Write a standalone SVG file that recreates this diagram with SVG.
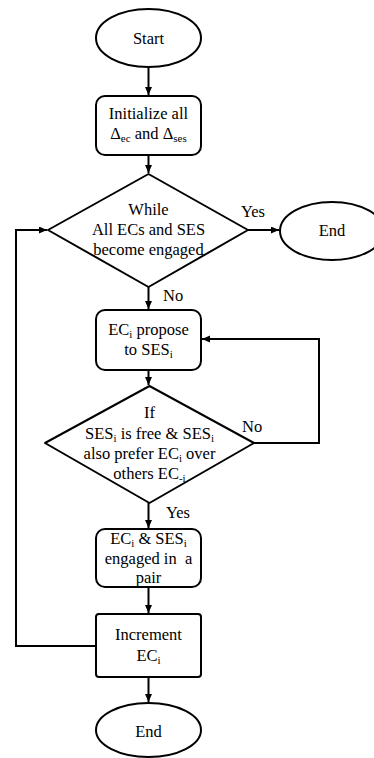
<svg xmlns="http://www.w3.org/2000/svg" width="374" height="758" viewBox="0 0 374 758">
<style>
.s{fill:#fff;stroke:#000;stroke-width:2;stroke-linejoin:round}
.c{fill:none;stroke:#000;stroke-width:2}
text{font-family:'Liberation Serif','DejaVu Serif',serif;font-size:16.5px;fill:#000;text-anchor:middle}
.lb{text-anchor:start}
.sub{font-size:11px}
</style>
<defs>
<marker id="ah" markerUnits="userSpaceOnUse" markerWidth="9" markerHeight="8" refX="8" refY="3.5" orient="auto">
<path d="M0,0 L8,3.5 L0,7 z" fill="#000"/>
</marker>
</defs>
<rect width="374" height="758" fill="#fff"/>
<g id="connectors">
<line class="c" x1="148.5" y1="67" x2="148.5" y2="95" marker-end="url(#ah)"/>
<line class="c" x1="148.5" y1="155" x2="148.5" y2="173" marker-end="url(#ah)"/>
<line class="c" x1="248" y1="230" x2="279" y2="230" marker-end="url(#ah)"/>
<line class="c" x1="148.5" y1="287" x2="148.5" y2="309" marker-end="url(#ah)"/>
<line class="c" x1="148.5" y1="370" x2="148.5" y2="385" marker-end="url(#ah)"/>
<polyline class="c" points="254,443 319,443 319,339 202,339" marker-end="url(#ah)"/>
<line class="c" x1="148.5" y1="503" x2="148.5" y2="528" marker-end="url(#ah)"/>
<line class="c" x1="148.5" y1="587" x2="148.5" y2="613" marker-end="url(#ah)"/>
<line class="c" x1="148.5" y1="677" x2="148.5" y2="702" marker-end="url(#ah)"/>
<polyline class="c" points="96,646 16,646 16,230 47,230" marker-end="url(#ah)"/>
<text class="lb" x="241" y="217">Yes</text>
<text class="lb" x="163" y="301">No</text>
<text class="lb" x="242" y="432">No</text>
<text class="lb" x="166" y="518">Yes</text>
</g>
<g id="start">
<ellipse class="s" cx="148.5" cy="38" rx="52.5" ry="29"/>
<text x="148.5" y="44">Start</text>
</g>
<g id="init">
<rect class="s" x="96" y="96" width="105" height="59" rx="9"/>
<text x="148.5" y="119">Initialize all</text>
<text x="148.5" y="139">Δ<tspan class="sub" dy="3">ec</tspan><tspan dy="-3"> and Δ</tspan><tspan class="sub" dy="3">ses</tspan></text>
</g>
<g id="while">
<polygon class="s" points="148.5,174 248,230 148.5,287 48,230"/>
<text x="148.5" y="215">While</text>
<text x="148.5" y="235">All ECs and SES</text>
<text x="148.5" y="255">become engaged</text>
</g>
<g id="end1">
<ellipse class="s" cx="332" cy="231" rx="52" ry="29"/>
<text x="332" y="236">End</text>
</g>
<g id="propose">
<rect class="s" x="96" y="310" width="105" height="60" rx="9"/>
<text x="148.5" y="335">EC<tspan class="sub" dy="3">i</tspan><tspan dy="-3"> propose</tspan></text>
<text x="148.5" y="355">to SES<tspan class="sub" dy="3">i</tspan></text>
</g>
<g id="if">
<polygon class="s" points="149.5,386 254,443 149.5,503 45,443"/>
<text x="149.5" y="418">If</text>
<text x="149.5" y="439">SES<tspan class="sub" dy="3">i</tspan><tspan dy="-3"> is free &amp; SES</tspan><tspan class="sub" dy="3">i</tspan></text>
<text x="149.5" y="459">also prefer EC<tspan class="sub" dy="3">i</tspan><tspan dy="-3"> over</tspan></text>
<text x="149.5" y="479">others EC<tspan class="sub" dy="3">-i</tspan></text>
</g>
<g id="engaged">
<rect class="s" x="96" y="529" width="105" height="58" rx="9"/>
<text x="148.5" y="544">EC<tspan class="sub" dy="3">i</tspan><tspan dy="-3"> &amp; SES</tspan><tspan class="sub" dy="3">i</tspan></text>
<text x="148.5" y="564" xml:space="preserve">engaged in  a</text>
<text x="148.5" y="583">pair</text>
</g>
<g id="increment">
<rect class="s" x="96" y="614" width="105" height="63" rx="3"/>
<text x="148.5" y="640">Increment</text>
<text x="148.5" y="661">EC<tspan class="sub" dy="3">i</tspan></text>
</g>
<g id="end2">
<ellipse class="s" cx="148.5" cy="730" rx="52.5" ry="27"/>
<text x="148.5" y="737">End</text>
</g>
</svg>
